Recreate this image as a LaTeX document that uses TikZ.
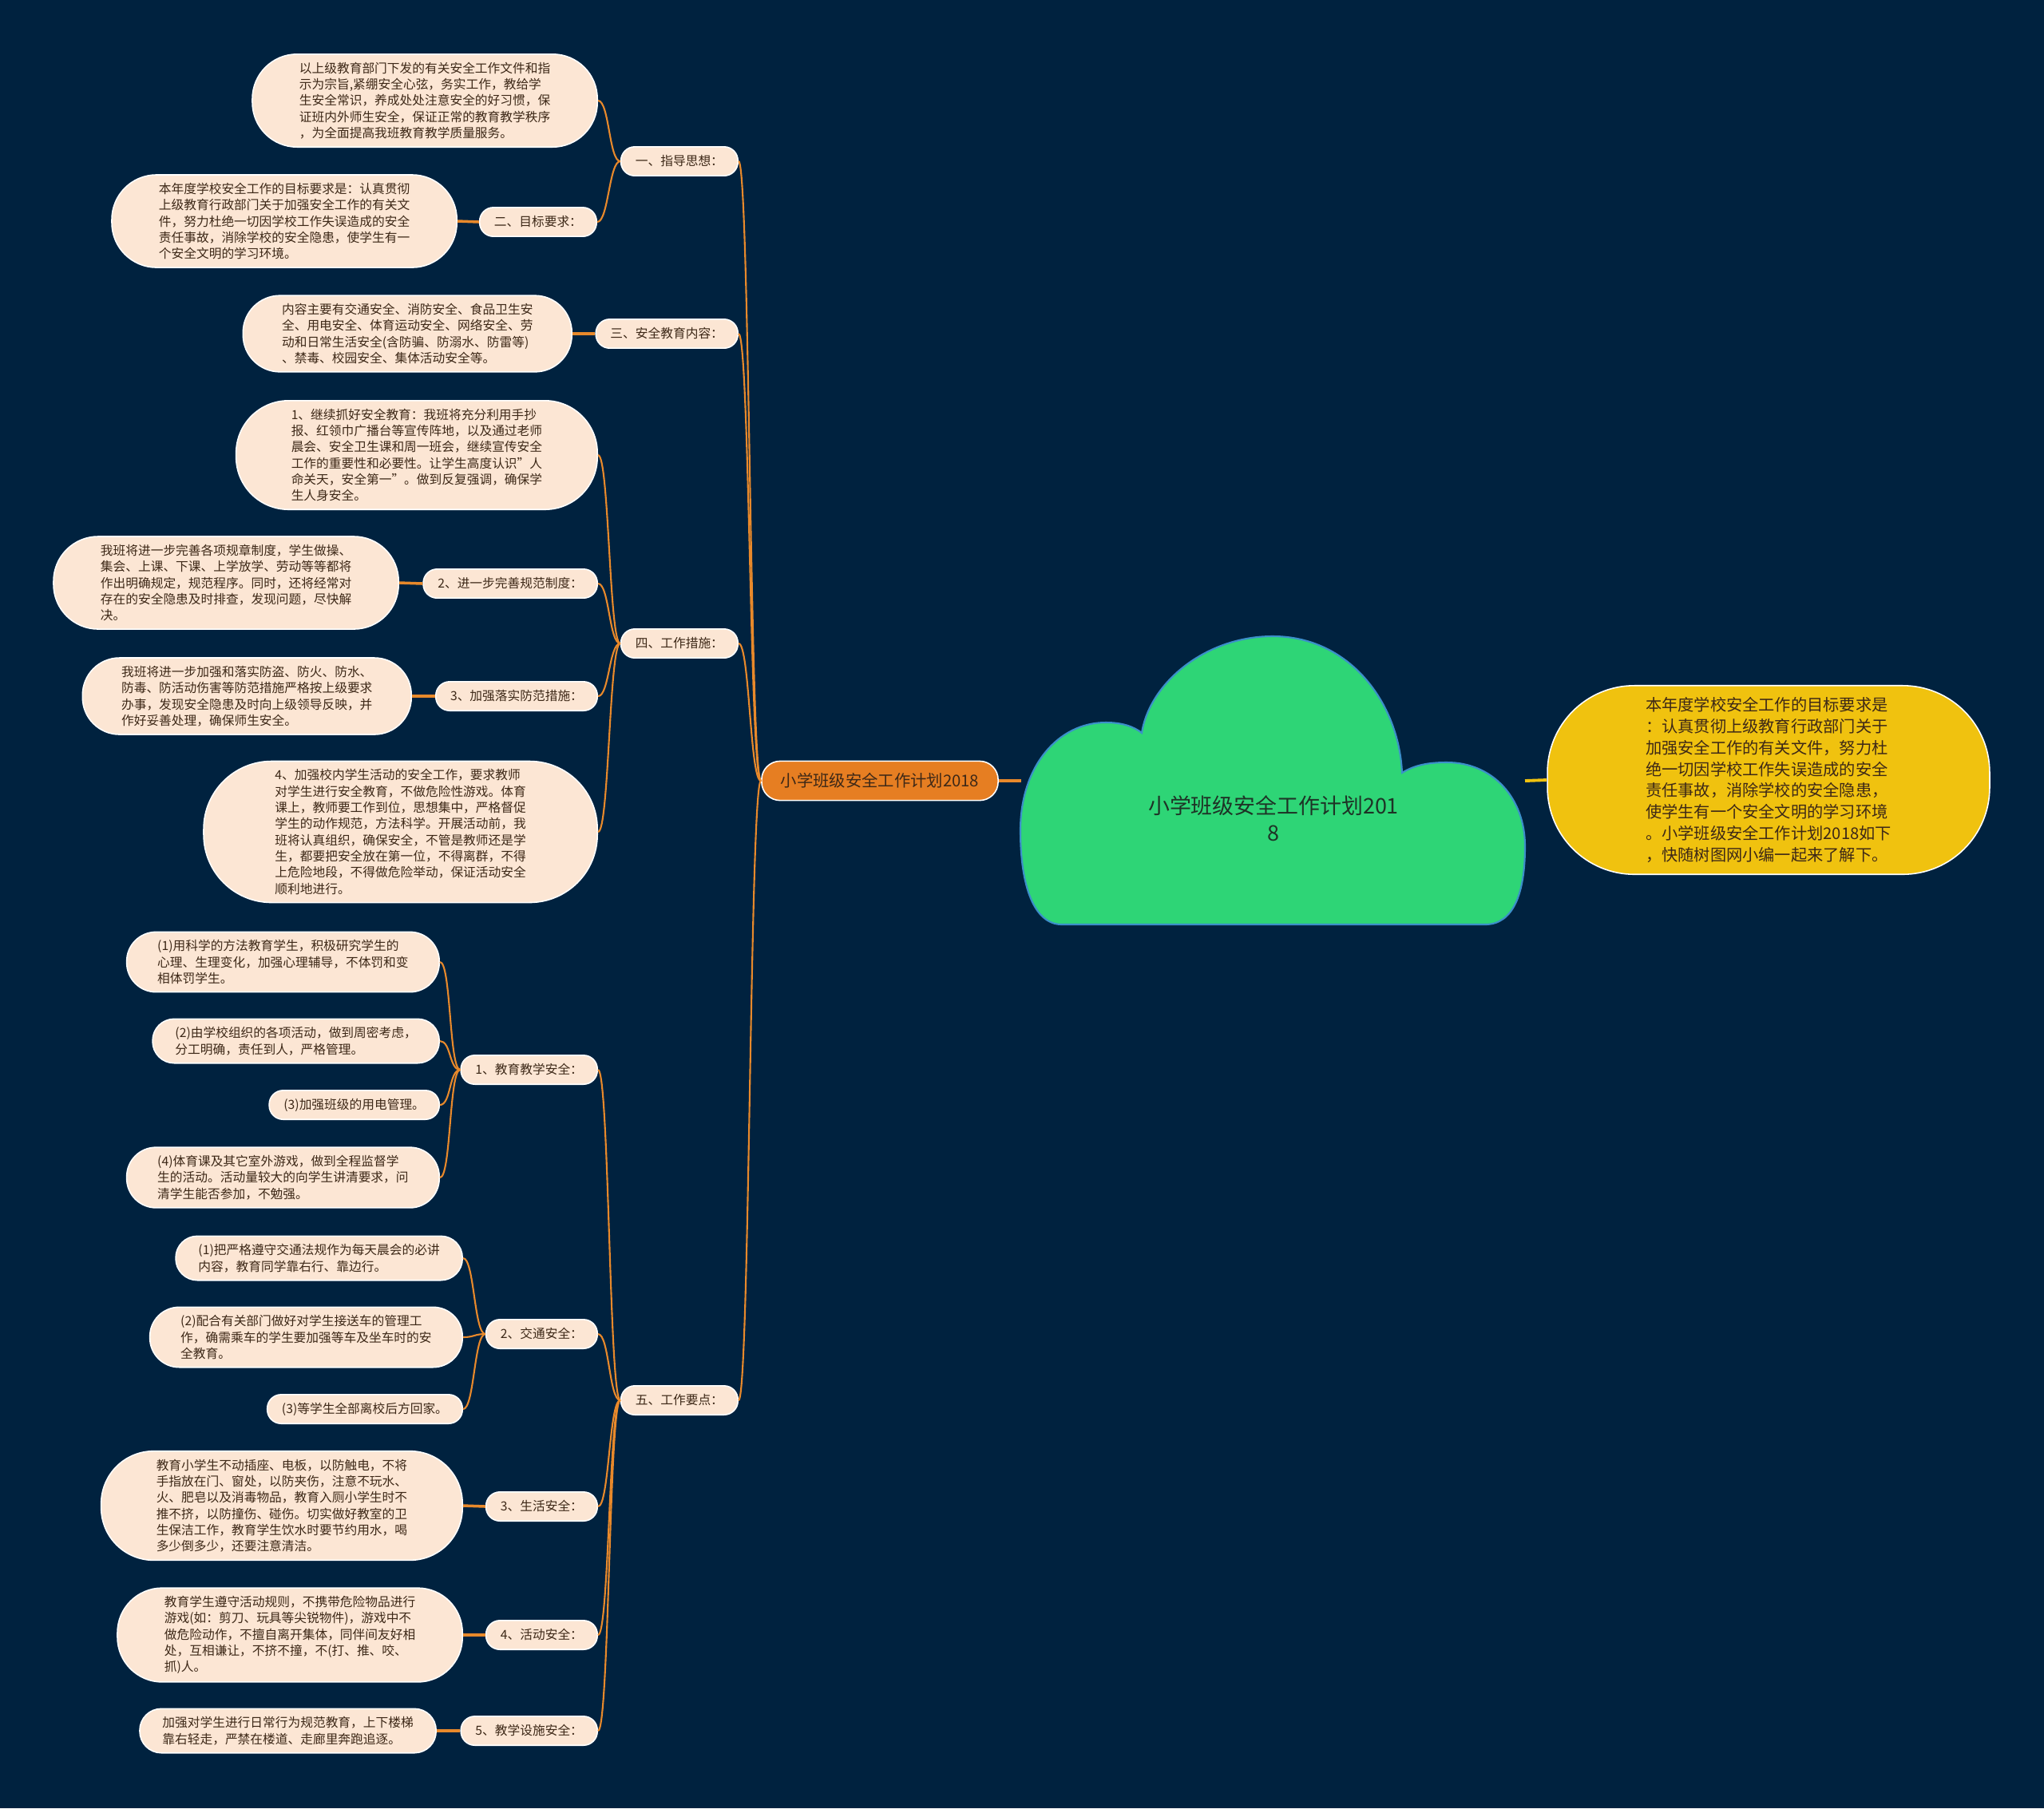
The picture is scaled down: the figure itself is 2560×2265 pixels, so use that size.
\documentclass[tikz,border=0pt]{standalone}
\usepackage{fontspec}
\setmainfont{Noto Sans CJK SC}
\definecolor{bg}{HTML}{00223F}
\definecolor{branch}{HTML}{E8892B}
\definecolor{peach}{HTML}{FCE6D4}
\definecolor{inkbrown}{HTML}{3D2817}
\definecolor{rootfill}{HTML}{E67E22}
\definecolor{cloudfill}{HTML}{2ED576}
\definecolor{cloudline}{HTML}{3B8FC9}
\definecolor{notefill}{HTML}{F0C20F}
\definecolor{titleink}{HTML}{1E3326}
\newcommand{\leaffont}{\fontsize{4.47pt}{5.78pt}\selectfont}
\newcommand{\rootfont}{\fontsize{5.78pt}{7pt}\selectfont}
\newcommand{\notefont}{\fontsize{5.75pt}{7.62pt}\selectfont}
\newcommand{\titlefont}{\fontsize{7.65pt}{9.67pt}\selectfont}
\tikzset{box/.style={rectangle,draw=white,line width=.45pt,fill=peach,text=inkbrown,
    font=\leaffont,inner xsep={2.3pt+2.89pt*#1},rounded corners={2.2pt+2.75pt*#1},
    inner ysep=2.85pt,align=left,anchor=east},box/.default=1,
  tag/.style={box=1,text height=3.93pt,text depth=.71pt},
  link/.style={draw=branch,line width=.6pt},
  stem/.style={draw=branch,line width=1pt}}

\begin{document}
\begin{tikzpicture}[x=.01cm,y=-.01cm]
\useasboundingbox (0,0) rectangle (2560,2265);
\fill[bg] (0,0) rectangle (2560,2265);
\fill[cloudfill,draw=cloudline,line width=.6pt] (1330,1158)
 .. controls (1295,1158) and (1278,1110) .. (1278,1040)
 .. controls (1278,960) and (1325,905) .. (1385,905)
 .. controls (1405,905) and (1420,910) .. (1430,918)
 .. controls (1440,855) and (1510,797) .. (1594,797)
 .. controls (1690,797) and (1752,880) .. (1756,968)
 .. controls (1772,958) and (1790,955) .. (1812,955)
 .. controls (1870,955) and (1910,1000) .. (1910,1060)
 .. controls (1910,1120) and (1895,1158) .. (1860,1158) -- cycle;
\node[text=titleink,font=\titlefont,align=center] (title) at (1595,1025) {小学班级安全工作计划201\\8};
\coordinate (cloudL) at (1279,978);
\coordinate (cloudR) at (1910,978);
\node[rectangle,rounded corners=6.6pt,draw=white,line width=.45pt,fill=rootfill,text=inkbrown,font=\rootfont,
  inner xsep=6.8pt,inner ysep=4pt,text height=5.1pt,text depth=.9pt] (root) at (1102,978) {小学班级安全工作计划2018};
\node[rectangle,rounded corners=31pt,draw=white,line width=.45pt,fill=notefill,text=inkbrown,font=\notefont,
  inner xsep=35pt,inner ysep=4.2pt,align=left] (note) at (2215,977) {本年度学校安全工作的目标要求是\\
：认真贯彻上级教育行政部门关于\\
加强安全工作的有关文件，努力杜\\
绝一切因学校工作失误造成的安全\\
责任事故，消除学校的安全隐患，\\
使学生有一个安全文明的学习环境\\
。小学班级安全工作计划2018如下\\
，快随树图网小编一起来了解下。};
\draw[branch,line width=1.1pt] (root.east) -- (cloudL);
\draw[notefill,line width=1.1pt] (cloudR) -- (note.west);

\node[tag] (s1) at (925,202) {一、指导思想：};
\node[box=5] (s1t) at (749,126) {以上级教育部门下发的有关安全工作文件和指\\
示为宗旨,紧绷安全心弦，务实工作，教给学\\
生安全常识，养成处处注意安全的好习惯，保\\
证班内外师生安全，保证正常的教育教学秩序\\
，为全面提高我班教育教学质量服务。};
\node[tag] (s2) at (748,278) {二、目标要求：};
\node[box=5] (s2t) at (573,277) {本年度学校安全工作的目标要求是：认真贯彻\\
上级教育行政部门关于加强安全工作的有关文\\
件，努力杜绝一切因学校工作失误造成的安全\\
责任事故，消除学校的安全隐患，使学生有一\\
个安全文明的学习环境。};
\node[tag] (s3) at (925,418) {三、安全教育内容：};
\node[box=4] (s3t) at (717,418) {内容主要有交通安全、消防安全、食品卫生安\\
全、用电安全、体育运动安全、网络安全、劳\\
动和日常生活安全(含防骗、防溺水、防雷等)\\
、禁毒、校园安全、集体活动安全等。};
\node[tag] (s4) at (925,806) {四、工作措施：};
\node[box=6] (s4a) at (749,570) {1、继续抓好安全教育：我班将充分利用手抄\\
报、红领巾广播台等宣传阵地，以及通过老师\\
晨会、安全卫生课和周一班会，继续宣传安全\\
工作的重要性和必要性。让学生高度认识"人\\
命关天，安全第一"。做到反复强调，确保学\\
生人身安全。};
\node[tag] (s4b) at (749,731) {2、进一步完善规范制度：};
\node[box=5] (s4bt) at (500,730) {我班将进一步完善各项规章制度，学生做操、\\
集会、上课、下课、上学放学、劳动等等都将\\
作出明确规定，规范程序。同时，还将经常对\\
存在的安全隐患及时排查，发现问题，尽快解\\
决。};
\node[tag] (s4c) at (749,872) {3、加强落实防范措施：};
\node[box=4] (s4ct) at (516,872) {我班将进一步加强和落实防盗、防火、防水、\\
防毒、防活动伤害等防范措施严格按上级要求\\
办事，发现安全隐患及时向上级领导反映，并\\
作好妥善处理，确保师生安全。};
\node[box=8] (s4d) at (749,1042) {4、加强校内学生活动的安全工作，要求教师\\
对学生进行安全教育，不做危险性游戏。体育\\
课上，教师要工作到位，思想集中，严格督促\\
学生的动作规范，方法科学。开展活动前，我\\
班将认真组织，确保安全，不管是教师还是学\\
生，都要把安全放在第一位，不得离群，不得\\
上危险地段，不得做危险举动，保证活动安全\\
顺利地进行。};
\node[tag] (s5) at (925,1754) {五、工作要点：};
\node[tag] (s5a) at (749,1340) {1、教育教学安全：};
\node[box=3] (s5a1) at (551,1205) {(1)用科学的方法教育学生，积极研究学生的\\
心理、生理变化，加强心理辅导，不体罚和变\\
相体罚学生。};
\node[box=2] (s5a2) at (551,1304) {(2)由学校组织的各项活动，做到周密考虑，\\
分工明确，责任到人，严格管理。};
\node[tag] (s5a3) at (551,1384) {(3)加强班级的用电管理。};
\node[box=3] (s5a4) at (551,1475) {(4)体育课及其它室外游戏，做到全程监督学\\
生的活动。活动量较大的向学生讲清要求，问\\
清学生能否参加，不勉强。};
\node[tag] (s5b) at (749,1671) {2、交通安全：};
\node[box=2] (s5b1) at (580,1576) {(1)把严格遵守交通法规作为每天晨会的必讲\\
内容，教育同学靠右行、靠边行。};
\node[box=3] (s5b2) at (580,1675) {(2)配合有关部门做好对学生接送车的管理工\\
作，确需乘车的学生要加强等车及坐车时的安\\
全教育。};
\node[tag] (s5b3) at (580,1765) {(3)等学生全部离校后方回家。};
\node[tag] (s5c) at (749,1887) {3、生活安全：};
\node[box=6] (s5ct) at (580,1886) {教育小学生不动插座、电板，以防触电，不将\\
手指放在门、窗处，以防夹伤，注意不玩水、\\
火、肥皂以及消毒物品，教育入厕小学生时不\\
推不挤，以防撞伤、碰伤。切实做好教室的卫\\
生保洁工作，教育学生饮水时要节约用水，喝\\
多少倒多少，还要注意清洁。};
\node[tag] (s5d) at (749,2048) {4、活动安全：};
\node[box=5] (s5dt) at (580,2048) {教育学生遵守活动规则，不携带危险物品进行\\
游戏(如：剪刀、玩具等尖锐物件)，游戏中不\\
做危险动作，不擅自离开集体，同伴间友好相\\
处，互相谦让，不挤不撞，不(打、推、咬、\\
抓)人。};
\node[tag] (s5e) at (749,2168) {5、教学设施安全：};
\node[box=2] (s5et) at (547,2168) {加强对学生进行日常行为规范教育，上下楼梯\\
靠右轻走，严禁在楼道、走廊里奔跑追逐。};

\foreach \p/\c in {root/s1,root/s3,root/s4,root/s5,s1/s1t,s1/s2,s4/s4a,s4/s4b,s4/s4c,s4/s4d,
  s5/s5a,s5/s5b,s5/s5c,s5/s5d,s5/s5e,s5a/s5a1,s5a/s5a2,s5a/s5a3,s5a/s5a4,s5b/s5b1,s5b/s5b2,s5b/s5b3}
  \draw[link] (\p.west) .. controls +(-14,0) and +(14,0) .. (\c.east);
\foreach \p/\c in {s2/s2t,s3/s3t,s4b/s4bt,s4c/s4ct,s5c/s5ct,s5d/s5dt,s5e/s5et}
  \draw[stem] (\p.west) -- (\c.east);
\end{tikzpicture}
\end{document}
